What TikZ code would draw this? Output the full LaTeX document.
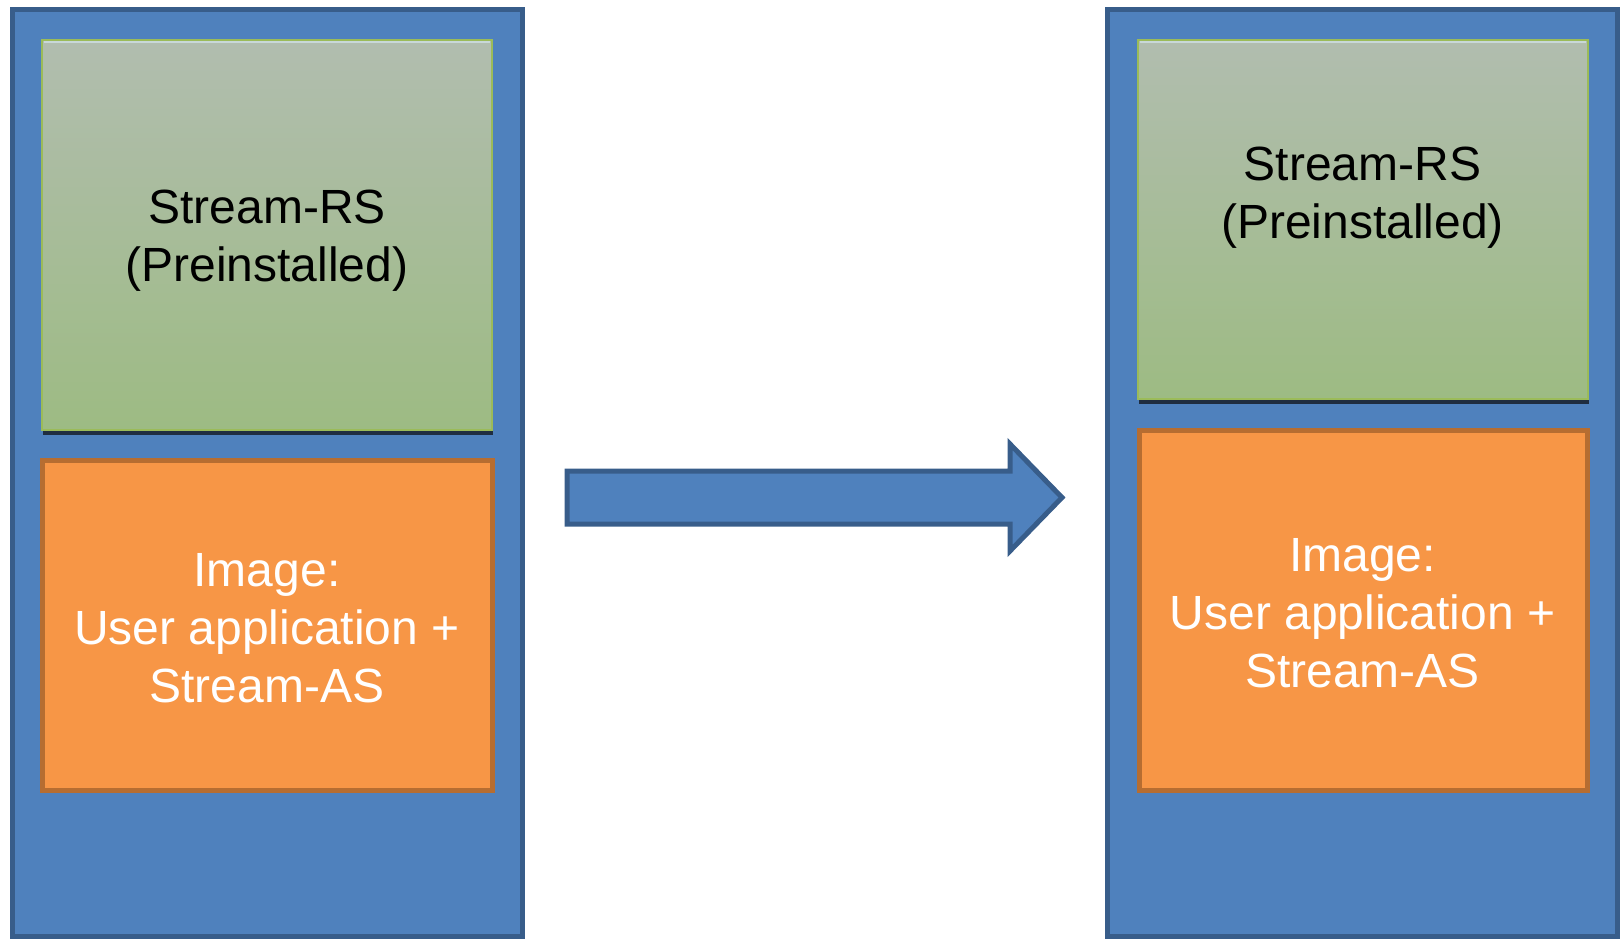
\documentclass[tikz,border=0pt]{standalone}
\usepackage{fontspec}
\setmainfont{Liberation Sans}

\definecolor{panelblue}{RGB}{79,129,189}
\definecolor{paneledge}{RGB}{56,93,138}
\definecolor{imgorange}{RGB}{247,150,70}
\definecolor{imgedge}{RGB}{182,109,49}
\definecolor{rsedge}{RGB}{155,187,89}
\definecolor{rstop}{RGB}{177,189,175}
\definecolor{rsbottom}{RGB}{157,187,131}
\definecolor{rsshade}{RGB}{31,45,64}
\definecolor{rsgloss}{RGB}{200,216,216}

\tikzset{
  panel/.style={draw=paneledge,fill=panelblue,line width=5pt},
  rsbox/.style={draw=rsedge,top color=rstop,bottom color=rsbottom,line width=2pt},
  imgbox/.style={draw=imgedge,fill=imgorange,line width=5pt},
  rslabel/.style={align=center,inner sep=0pt,text=black,font=\fontsize{48}{58}\selectfont},
  imglabel/.style={rslabel,text=white},
  blockarrow/.style={draw=paneledge,fill=panelblue,line width=5pt,line join=miter},
}

\begin{document}
\begin{tikzpicture}[x=1pt,y=1pt,yscale=-1,xscale=1]
		\useasboundingbox (0,0) rectangle (1620,940);
		
		%Shape: Rectangle [left panel]
		\draw [panel] (12,9.5) rectangle (522,936) ;
		%Shape: Rectangle [left Stream-RS]
		\draw [rsbox] (42,40) rectangle (492,430) ;
		\draw [rsgloss,line width=2pt] (44,42) -- (490,42) ;
		\draw [rsshade,line width=4pt] (43,433) -- (493,433) ;
		%Shape: Rectangle [left image]
		\draw [imgbox] (42.5,460) rectangle (492.5,790) ;
		
		%Shape: Rectangle [right panel]
		\draw [panel] (1107,9.5) rectangle (1617.5,936) ;
		%Shape: Rectangle [right Stream-RS]
		\draw [rsbox] (1138,40) rectangle (1588,399) ;
		\draw [rsgloss,line width=2pt] (1140,42) -- (1586,42) ;
		\draw [rsshade,line width=4pt] (1139,402) -- (1589,402) ;
		%Shape: Rectangle [right image]
		\draw [imgbox] (1139,430) rectangle (1587.5,790) ;
		
		%Shape: Right Arrow
		\draw [blockarrow] (567,471) -- (1010,471) -- (1010,444) -- (1062,497.5) -- (1010,551) -- (1010,524) -- (567,524) -- cycle ;
		
		% Text Node
		\node [rslabel] (rsold) at (267,241) {Stream-RS\\(Preinstalled)};
		% Text Node
		\node [imglabel] (imgold) at (267,628) {Image:\\User application +\\Stream-AS};
		% Text Node
		\node [rslabel] (rsnew) at (1362.5,198) {Stream-RS\\(Preinstalled)};
		% Text Node
		\node [imglabel] (imgnew) at (1362.5,613.5) {Image:\\User application +\\Stream-AS};
		
\end{tikzpicture}
\end{document}
